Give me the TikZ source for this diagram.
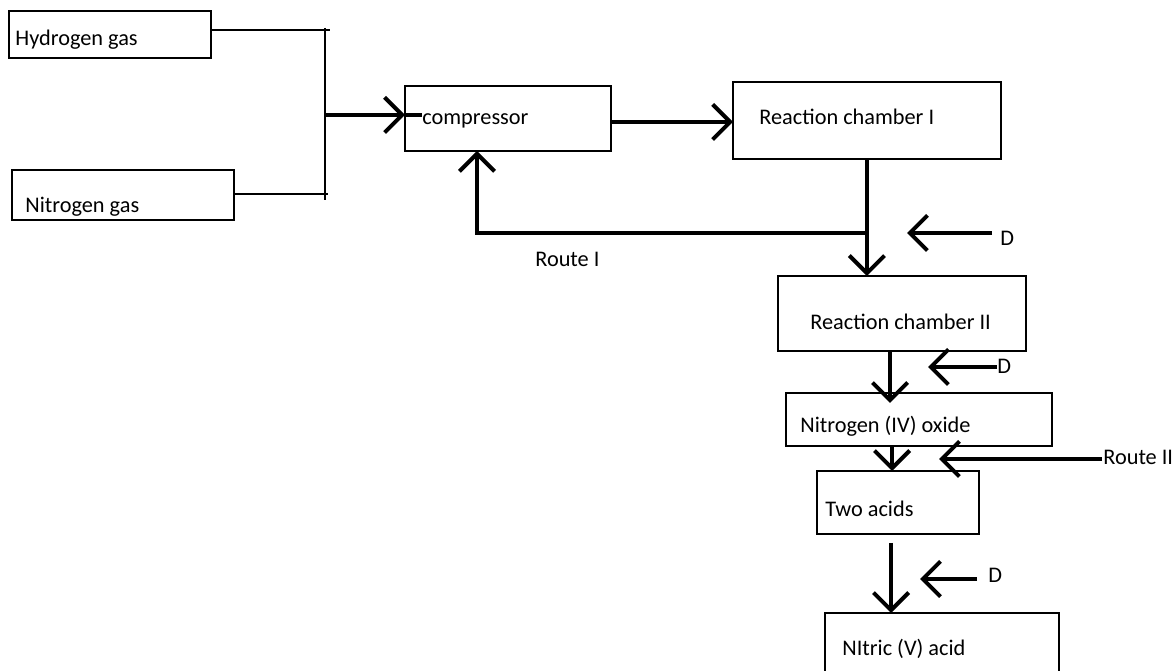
\documentclass[tikz,border=0pt]{standalone}
\usepackage{fontspec}
\setmainfont{Carlito}
\usetikzlibrary{arrows.meta}

\begin{document}
\begin{tikzpicture}[x=0.02cm,y=-0.02cm,
		box/.style={draw=black,line width=0.8pt,inner sep=0pt,outer sep=0pt,anchor=north west},
		lbl/.style={inner sep=0pt,anchor=base west,font=\fontsize{12.7}{15}\selectfont},
		wire/.style={black,line width=0.7pt},
		pipe/.style={black,line width=2.3pt,-{Straight Barb[length=10pt,width=20pt]}}]
		\fill [white] (0,0) rectangle (1174,671);
		\useasboundingbox (0,0) rectangle (1174,671);
		% the boxes
		\node[box,minimum width=4.04cm,minimum height=0.94cm] (hyd) at (9,11) {};
		\node[box,minimum width=4.44cm,minimum height=1cm] (nit) at (12,170) {};
		\node[box,minimum width=4.12cm,minimum height=1.3cm] (comp) at (405,86) {};
		\node[box,minimum width=5.36cm,minimum height=1.54cm] (rcone) at (733,82) {};
		\node[box,minimum width=4.96cm,minimum height=1.5cm] (rctwo) at (778,276) {};
		\node[box,minimum width=5.32cm,minimum height=1.06cm] (notwo) at (786,393) {};
		\node[box,minimum width=3.24cm,minimum height=1.26cm] (acids) at (817,471) {};
		\node[box,minimum width=4.68cm,minimum height=1.4cm] (nitric) at (825,613) {};
		
		\node[lbl] (hydtxt) at (15,46) {Hydrogen gas};
		\node[lbl] (nittxt) at (25,213) {Nitrogen gas};
		\node[lbl] (comptxt) at (422,125) {compressor};
		\node[lbl] (rconetxt) at (759,125) {Reaction chamber I};
		\node[lbl] (rctwotxt) at (810,330) {Reaction chamber II};
		\node[lbl] (notwotxt) at (800,433) {Nitrogen (IV) oxide};
		\node[lbl] (acidstxt) at (825,517) {Two acids};
		\node[lbl] (nitrictxt) at (842,656) {NItric (V) acid};
		\node[lbl] (routeone) at (535,267) {Route I};
		\node[lbl] (routetwo) at (1103,465) {Route II};
		\node[lbl] (dA) at (1000,246) {D};
		\node[lbl] (dB) at (997,374) {D};
		\node[lbl] (dC) at (988,583) {D};
		
		% gases into the compressor
		\coordinate (jtop) at (325,28);
		\coordinate (jbot) at (325,200);
		\coordinate (jmid) at (325,115);
		\draw[wire] (hyd.east |- 0,30) -- (330,30);
		\draw[wire] (nit.east |- 0,194) -- (328,194);
		\draw[wire] (jtop) -- (jbot);
		\draw[pipe] (jmid) -- (comp.west |- jmid);
		\draw[black,line width=2.3pt] (comp.west |- jmid) -- ++(17,0);
		
		\draw[pipe] (comp.east |- 0,122) -- (rcone.west |- 0,122);
		\draw[pipe] (rcone.south) -- (rcone.south |- rctwo.north);
		
		% route I back to the compressor
		\coordinate (rone) at (868,233);
		\draw[pipe] (rone) -- (477,233) -- (comp.south -| 477,0);
		
		\draw[pipe] (rctwo.south -| 890,0) -- ([yshift=-0.2cm]notwo.north -| 890,0);
		\draw[pipe] (notwo.south -| 892,0) -- (acids.north -| 892,0);
		\draw[pipe,shorten <=0.18cm] (acids.south -| 891,0) -- (nitric.north -| 891,0);
		
		% inputs from the right
		\coordinate (dAin) at (992,233);
		\coordinate (dAend) at (907,233);
		\draw[pipe] (dAin) -- (dAend);
		\coordinate (dBin) at (997,367);
		\coordinate (dBend) at (928,367);
		\draw[pipe] (dBin) -- (dBend);
		\coordinate (rtwoin) at (1102,459);
		\coordinate (rtwoend) at (939,459);
		\draw[pipe] (rtwoin) -- (rtwoend);
		\coordinate (dCin) at (977,579);
		\coordinate (dCend) at (920,579);
		\draw[pipe] (dCin) -- (dCend);
	\end{tikzpicture}
\end{document}
